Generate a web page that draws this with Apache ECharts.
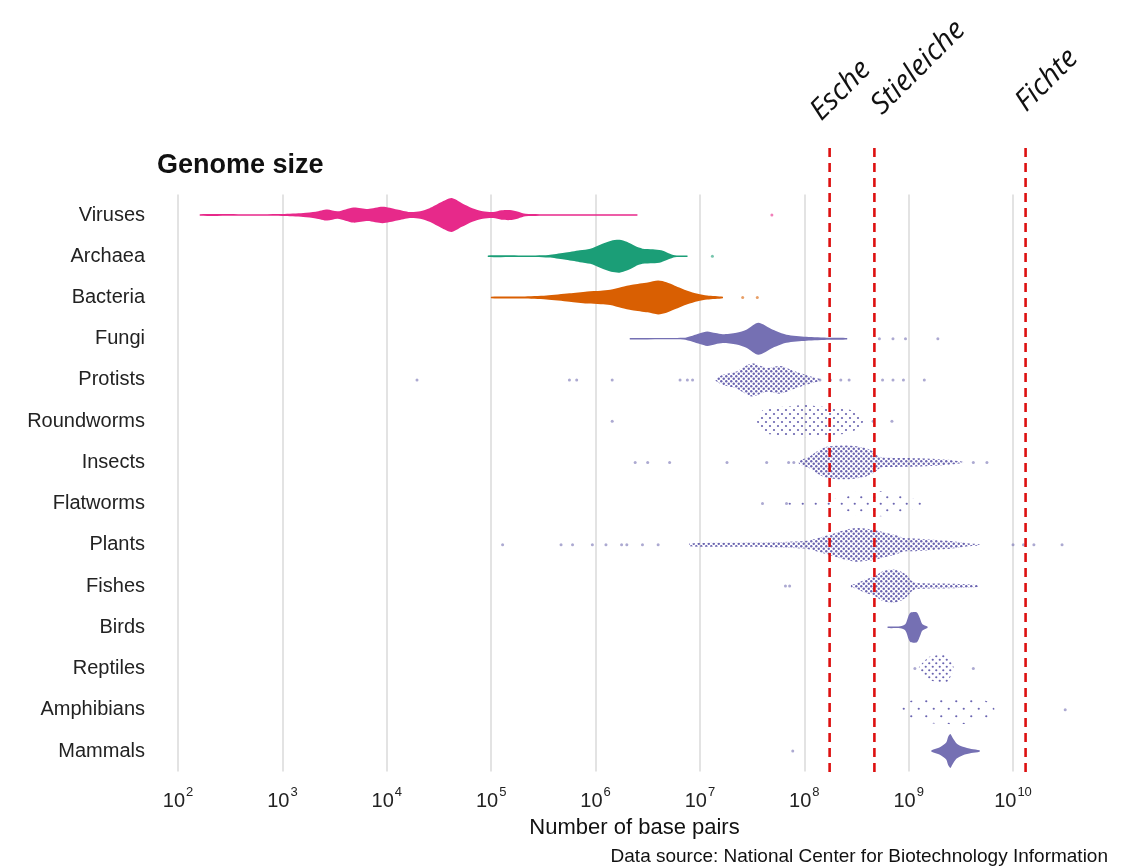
<!DOCTYPE html>
<html>
<head>
<meta charset="utf-8">
<style>
html,body{margin:0;padding:0;background:#fff;}
#chart{width:1131px;height:866px;}
</style>
<script src="https://cdn.jsdelivr.net/npm/echarts@6.0.0/dist/echarts.min.js"></script>
</head>
<body>
<div id="chart"></div>
<script>
// ---------- DATA (x values are log10 of the number of base pairs) ----------
const categories = ['Viruses','Archaea','Bacteria','Fungi','Protists','Roundworms','Insects','Flatworms','Plants','Fishes','Birds','Reptiles','Amphibians','Mammals'];
const tickExponents = [2,3,4,5,6,7,8,9,10];

// density profiles: [log10(bp), relative density 0..1]
const virusesProfile = [[2.21,0.03],[2.6,0.05],[3.0,0.06],[3.2,0.12],[3.32,0.2],[3.43,0.33],[3.53,0.22],[3.68,0.45],[3.82,0.36],[3.96,0.49],[4.1,0.33],[4.22,0.18],[4.32,0.22],[4.41,0.4],[4.52,0.75],[4.62,1.0],[4.72,0.7],[4.82,0.4],[4.92,0.22],[5.02,0.18],[5.1,0.28],[5.18,0.3],[5.26,0.2],[5.33,0.08],[5.6,0.05],[6.0,0.04],[6.4,0.03]];
const archaeaProfile = [[4.97,0.03],[5.3,0.05],[5.55,0.08],[5.7,0.2],[5.85,0.35],[5.95,0.45],[6.05,0.7],[6.15,0.92],[6.23,0.97],[6.3,0.85],[6.38,0.6],[6.45,0.45],[6.55,0.42],[6.63,0.35],[6.7,0.18],[6.76,0.06],[6.88,0.03]];
const bacteriaProfile = [[5.0,0.04],[5.3,0.06],[5.53,0.12],[5.75,0.25],[5.92,0.36],[6.05,0.4],[6.14,0.45],[6.25,0.62],[6.35,0.75],[6.5,0.88],[6.6,1.0],[6.68,0.9],[6.76,0.7],[6.88,0.4],[6.98,0.22],[7.07,0.12],[7.22,0.04]];
const fungiProfile = [[6.33,0.03],[6.84,0.05],[6.93,0.18],[7.0,0.32],[7.07,0.43],[7.15,0.33],[7.22,0.26],[7.35,0.35],[7.45,0.55],[7.56,0.95],[7.7,0.53],[7.83,0.24],[8.02,0.12],[8.24,0.06],[8.41,0.04]];
const protistsProfile = [[7.15,0.05],[7.22,0.3],[7.35,0.5],[7.5,0.98],[7.64,0.7],[7.77,0.82],[7.93,0.47],[8.08,0.18],[8.15,0.05]];
const roundwormsProfile = [[7.55,0.1],[7.6,0.65],[7.7,0.8],[7.8,0.85],[7.9,0.9],[8.0,0.95],[8.1,0.9],[8.2,0.85],[8.3,0.8],[8.4,0.75],[8.5,0.5],[8.56,0.1]];
const insectsProfile = [[7.95,0.08],[8.05,0.35],[8.12,0.65],[8.2,0.9],[8.3,0.98],[8.4,1.0],[8.5,0.95],[8.6,0.82],[8.67,0.6],[8.73,0.32],[8.8,0.28],[8.95,0.26],[9.1,0.24],[9.3,0.18],[9.45,0.1],[9.52,0.03]];
const flatwormsProfile = [[7.8,0.05],[7.9,0.1],[8.0,0.2],[8.2,0.25],[8.4,0.4],[8.5,0.7],[8.6,0.6],[8.7,0.75],[8.8,0.7],[8.9,0.55],[9.0,0.4],[9.1,0.2],[9.17,0.05]];
const plantsProfile = [[6.9,0.08],[7.3,0.12],[7.7,0.15],[8.0,0.22],[8.1,0.35],[8.24,0.6],[8.4,0.9],[8.5,1.0],[8.66,0.9],[8.79,0.7],[8.89,0.55],[8.95,0.4],[9.05,0.38],[9.2,0.32],[9.35,0.25],[9.46,0.18],[9.58,0.08],[9.68,0.03]];
const fishesProfile = [[8.45,0.08],[8.5,0.14],[8.56,0.33],[8.68,0.6],[8.75,0.88],[8.85,0.98],[8.93,0.85],[8.98,0.65],[9.03,0.3],[9.08,0.18],[9.3,0.15],[9.5,0.12],[9.68,0.04]];
const birdsProfile = [[8.8,0.03],[8.92,0.06],[8.97,0.2],[9.0,0.7],[9.02,0.88],[9.08,0.88],[9.11,0.5],[9.13,0.2],[9.18,0.04]];
const reptilesProfile = [[9.1,0.08],[9.15,0.45],[9.2,0.7],[9.28,0.8],[9.36,0.85],[9.4,0.5],[9.43,0.1]];
const amphibiansProfile = [[8.85,0.1],[9.0,0.5],[9.2,0.8],[9.4,0.85],[9.6,0.8],[9.75,0.5],[9.82,0.1]];
const mammalsProfile = [[9.22,0.05],[9.3,0.22],[9.36,0.5],[9.38,0.85],[9.4,1.0],[9.42,0.8],[9.46,0.45],[9.52,0.25],[9.6,0.12],[9.68,0.04]];

// single scattered genomes outside the dense parts (log10 bp)
const virusesOutliers = [7.69];
const archaeaOutliers = [7.12];
const bacteriaOutliers = [7.41, 7.55];
const fungiOutliers = [8.72, 8.85, 8.97, 9.28];
const protistsOutliers = [4.29, 5.75, 5.82, 6.16, 6.81, 6.88, 6.93, 8.15, 8.25, 8.35, 8.43, 8.75, 8.85, 8.95, 9.15];
const roundwormsOutliers = [6.16, 8.66, 8.84];
const insectsOutliers = [6.38, 6.5, 6.71, 7.26, 7.64, 7.85, 7.9, 9.62, 9.75];
const flatwormsOutliers = [7.6, 7.83];
const plantsOutliers = [5.11, 5.67, 5.78, 5.97, 6.1, 6.25, 6.3, 6.45, 6.6, 10.0, 10.1, 10.2, 10.47];
const fishesOutliers = [7.82, 7.86];
const birdsOutliers = [];
const reptilesOutliers = [9.06, 9.62];
const amphibiansOutliers = [10.5];
const mammalsOutliers = [7.89];

// reference genomes (number of base pairs)
const markerNames = ['Esche', 'Stieleiche', 'Fichte'];
const markerValues = [1.75e8, 4.7e8, 1.32e10];

// ---------- assembly ----------
const profiles = [virusesProfile, archaeaProfile, bacteriaProfile, fungiProfile, protistsProfile, roundwormsProfile, insectsProfile, flatwormsProfile, plantsProfile, fishesProfile, birdsProfile, reptilesProfile, amphibiansProfile, mammalsProfile];
const outliers = [virusesOutliers, archaeaOutliers, bacteriaOutliers, fungiOutliers, protistsOutliers, roundwormsOutliers, insectsOutliers, flatwormsOutliers, plantsOutliers, fishesOutliers, birdsOutliers, reptilesOutliers, amphibiansOutliers, mammalsOutliers];

// styles
const PURPLE = '#7570b3';
const catColors = ['#e7298a','#1b9e77','#d95f02',PURPLE,PURPLE,PURPLE,PURPLE,PURPLE,PURPLE,PURPLE,PURPLE,PURPLE,PURPLE,PURPLE];
// 0 = solid fill, otherwise dot pattern step (px)
const fillStep = [0,0,0,0,5,8,5,13,5,5,0,7,15,0];

function dotPattern(step, r, color) {
  const cv = document.createElement('canvas');
  cv.width = step; cv.height = step;
  const ctx = cv.getContext('2d');
  ctx.fillStyle = color;
  [[step*0.25, step*0.25],[step*0.75, step*0.75]].forEach(function (p) {
    ctx.beginPath(); ctx.arc(p[0], p[1], r, 0, Math.PI*2); ctx.fill();
  });
  return {image: cv, repeat: 'repeat'};
}
const fills = fillStep.map(function (s, i) {
  return s === 0 ? catColors[i] : dotPattern(s, s <= 5 ? 1.2 : 1.1, '#6a64b0');
});

const FONT = "'Liberation Sans', Arial, Helvetica, sans-serif";
const chart = echarts.init(document.getElementById('chart'), null, {renderer: 'canvas'});

const violinData = categories.map(function (c, i) { return [profiles[i][0][0], i]; });
const outlierData = [];
outliers.forEach(function (arr, i) { arr.forEach(function (e) { outlierData.push([e, i]); }); });

const markerSeries = markerValues.map(function (v, k) {
  const e = Math.log10(v);
  return {
    type: 'line', xAxisIndex: 1, yAxisIndex: 1, symbol: 'none', silent: true, clip: false,
    data: [[e, 0], [e, 1]],
    lineStyle: {color: '#dd1010', width: 2.6, type: [9, 6]},
    z: 5
  };
});
const labelOffsets = [[-4, -17], [12, -23], [5, -26]];

// main axis: 10^2 .. 10^10 over 178..1013 px; overlay axis uses the same scale extended to 10^11
const option = {
  backgroundColor: '#ffffff',
  animation: false,
  title: {
    text: 'Genome size', left: 157, top: 152, padding: 0,
    textStyle: {fontFamily: FONT, fontSize: 27, fontWeight: 'bold', color: '#111'}
  },
  graphic: [{
    type: 'text', right: 23, top: 847,
    style: {text: 'Data source: National Center for Biotechnology Information', fontFamily: FONT, fontSize: 19, fill: '#111'}
  }],
  grid: [
    {left: 178, right: 118, top: 194.4, bottom: 94.4},
    {left: 178, right: 13.625, top: 143, bottom: 94}
  ],
  xAxis: [{
    type: 'value', min: 2, max: 10, interval: 1,
    axisLine: {show: false}, axisTick: {show: false},
    splitLine: {show: true, lineStyle: {color: '#dcdcdc', width: 1.6}},
    axisLabel: {
      margin: 14, color: '#222',
      formatter: function (v) { return '{b|10}{s|' + Math.round(v) + '}'; },
      rich: {
        b: {fontFamily: FONT, fontSize: 20, color: '#222', lineHeight: 26, verticalAlign: 'bottom'},
        s: {fontFamily: FONT, fontSize: 13, color: '#222', lineHeight: 26, verticalAlign: 'top', padding: [0, 0, 0, 1]}
      }
    },
    name: 'Number of base pairs', nameLocation: 'middle', nameGap: 42,
    nameTextStyle: {fontFamily: FONT, fontSize: 22, color: '#111', padding: [0, 0, 0, 78]}
  }, {
    type: 'value', min: 2, max: 11, gridIndex: 1, show: false
  }],
  yAxis: [{
    type: 'category', data: categories, inverse: true,
    axisLine: {show: false}, axisTick: {show: false}, splitLine: {show: false},
    axisLabel: {margin: 33, fontFamily: FONT, fontSize: 20, color: '#222', padding: [4, 0, 0, 0]}
  }, {
    type: 'value', min: 0, max: 1, gridIndex: 1, show: false
  }],
  series: [{
    type: 'custom', name: 'violins', clip: false, silent: true,
    encode: {x: 0, y: 1},
    data: violinData,
    renderItem: function (params, api) {
      const i = params.dataIndex;
      const band = api.size([0, 1])[1];
      const top = [], bot = [];
      profiles[i].forEach(function (pt) {
        const p = api.coord([pt[0], i]);
        const h = Math.max(pt[1] * 0.41 * band, 0.7);
        top.push([p[0], p[1] - h]);
        bot.push([p[0], p[1] + h]);
      });
      return {
        type: 'polygon',
        shape: {points: top.concat(bot.reverse()), smooth: 0.25},
        style: {fill: fills[i], stroke: null}
      };
    },
    z: 3
  }, {
    type: 'scatter', name: 'single genomes', clip: false, silent: true,
    data: outlierData, symbolSize: 3,
    itemStyle: {color: function (p) { return catColors[p.value[1]]; }, opacity: 0.6},
    z: 3
  }].concat(markerSeries).concat([{
    type: 'custom', name: 'marker labels', xAxisIndex: 1, yAxisIndex: 1, clip: false, silent: true,
    encode: {x: 0, y: 1},
    data: markerValues.map(function (v, k) { return [Math.log10(v), 1, k]; }),
    renderItem: function (params, api) {
      const k = params.dataIndex;
      const p = api.coord([api.value(0), 1]);
      return {
        type: 'text',
        x: p[0] + labelOffsets[k][0], y: p[1] + labelOffsets[k][1],
        rotation: Math.PI / 4,
        style: {
          text: markerNames[k], fontFamily: "'Open Sans', 'DejaVu Sans', sans-serif",
          fontStyle: 'italic', fontWeight: 'normal', fontSize: 29, fill: '#111',
          align: 'left', verticalAlign: 'bottom'
        }
      };
    },
    z: 6
  }])
};
chart.setOption(option);
</script>
</body>
</html>
